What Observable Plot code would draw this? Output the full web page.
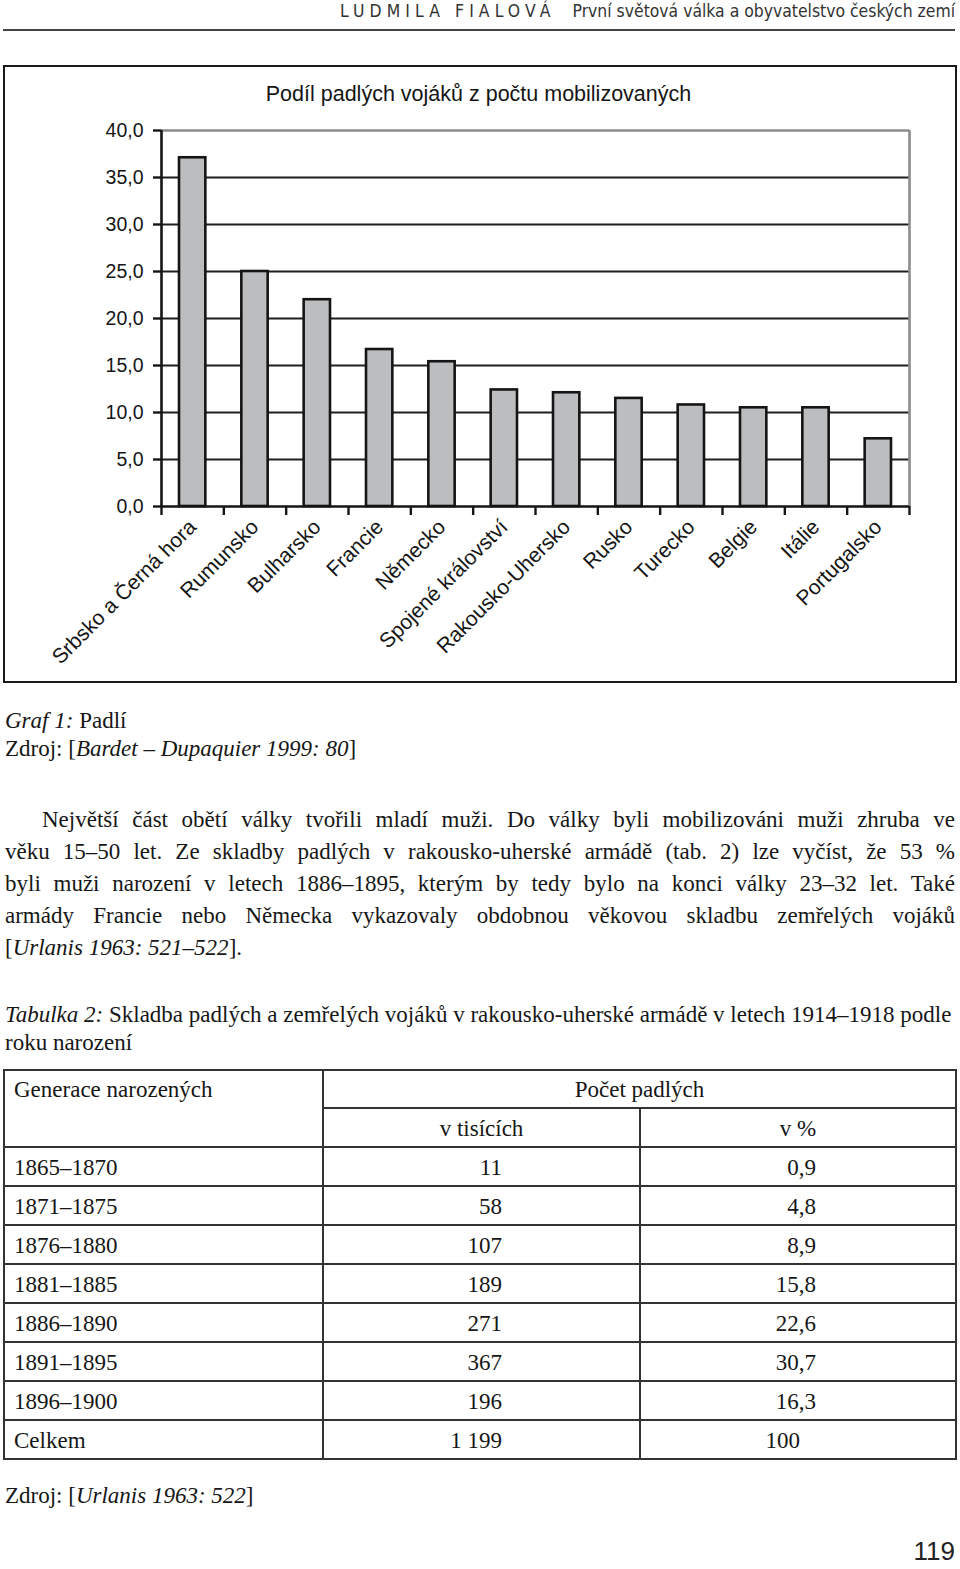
<!DOCTYPE html>
<html>
<head>
<meta charset="utf-8">
<script src="https://cdn.jsdelivr.net/npm/d3@7"></script>
<script src="https://cdn.jsdelivr.net/npm/@observablehq/plot@0.6"></script>
<style>
  html, body { margin: 0; padding: 0; background: #fff; }
  #page { position: relative; width: 960px; height: 1569px; overflow: hidden; background: #fff; color: #111; }
  .abs { position: absolute; white-space: nowrap; }
  .sans { font-family: "Liberation Sans", Arial, sans-serif; }
  .narrow { font-family: "Liberation Sans Narrow", "DejaVu Sans Condensed", sans-serif; }
  .serif { font-family: "Liberation Serif", "Times New Roman", serif; font-size: 23px; color: #161616; }
  .jline { position: absolute; left: 5px; width: 950px; white-space: nowrap; text-align: justify; text-align-last: justify; }
  .hl { position: absolute; height: 2px; background: #333; }
  .vl { position: absolute; width: 2px; background: #333; }
  .cell { position: absolute; white-space: nowrap; line-height: 39px; height: 39px; }
  #chartbox { position: absolute; left: 3px; top: 65px; width: 954px; height: 618px; border: 2.5px solid #1a1a1a; box-sizing: border-box; }
  #chart { position: absolute; left: 0; top: 66px; }
</style>
</head>
<body>
<div id="page">
  <div class="abs narrow" style="left:340px; top:3px; font-size:17.4px; line-height:17px; letter-spacing:5.1px; color:#333;">LUDMILA FIALOVÁ</div>
  <div class="abs narrow" style="right:5px; top:3px; font-size:17.4px; line-height:17px; color:#333;">První světová válka a obyvatelstvo českých zemí</div>
  <div class="hl" style="left:3px; width:952px; top:29px; height:1.5px; background:#444;"></div>

  <div id="chartbox"></div>
  <div class="abs sans" id="title" style="left:0; width:957px; text-align:center; top:84px; font-size:21.5px; line-height:21px; color:#151515;">Podíl padlých vojáků z počtu mobilizovaných</div>
  <div id="chart"></div>

  <div class="abs serif" style="left:5px; top:707px; line-height:28px;"><i>Graf 1:</i> Padlí<br>Zdroj: [<i>Bardet – Dupaquier 1999: 80</i>]</div>

  <div id="para" class="serif"></div>

  <div class="abs serif" style="left:5px; top:1001px; line-height:28px;"><i>Tabulka 2:</i> Skladba padlých a zemřelých vojáků v rakousko-uherské armádě v letech 1914–1918 podle<br>roku narození</div>

  <div id="table" class="serif"></div>

  <div class="abs serif" style="left:5px; top:1480px; line-height:32px;">Zdroj: [<i>Urlanis 1963: 522</i>]</div>

  <div class="abs sans" style="right:5px; top:1537px; font-size:26px; line-height:28px; color:#222;">119</div>
</div>
<script>
// ---- chart data ----
const categories = ["Srbsko a Černá hora", "Rumunsko", "Bulharsko", "Francie", "Německo", "Spojené království", "Rakousko-Uhersko", "Rusko", "Turecko", "Belgie", "Itálie", "Portugalsko"];
const values = [37.1, 25.0, 22.0, 16.7, 15.4, 12.4, 12.1, 11.5, 10.8, 10.5, 10.5, 7.2];
const yTicks = [0, 5, 10, 15, 20, 25, 30, 35, 40];
const chartTitle = "Podíl padlých vojáků z počtu mobilizovaných";

// ---- table data ----
const generations = ["1865–1870", "1871–1875", "1876–1880", "1881–1885", "1886–1890", "1891–1895", "1896–1900", "Celkem"];
const thousands = ["11", "58", "107", "189", "271", "367", "196", "1 199"];
const percents = ["0,9", "4,8", "8,9", "15,8", "22,6", "30,7", "16,3", "100"];

// ---- paragraph ----
const paraLines = [
  "Největší část obětí války tvořili mladí muži. Do války byli mobilizováni muži zhruba ve",
  "věku 15–50 let. Ze skladby padlých v rakousko-uherské armádě (tab. 2) lze vyčíst, že 53 %",
  "byli muži narození v letech 1886–1895, kterým by tedy bylo na konci války 23–32 let. Také",
  "armády Francie nebo Německa vykazovaly obdobnou věkovou skladbu zemřelých vojáků",
  "[<i>Urlanis 1963: 521–522</i>]."
];

const data = categories.map((c, i) => ({country: c, value: values[i], i}));
const fmt = d => d.toFixed(1).replace(".", ",");

const chart = Plot.plot({
  width: 960,
  height: 616,
  marginLeft: 161,
  marginRight: 51,
  marginTop: 64,
  marginBottom: 176,
  x: {domain: [0, categories.length], axis: null, label: null},
  y: {domain: [0, 40], axis: null, label: null},
  style: {fontFamily: "'Liberation Sans', Arial, sans-serif", background: "transparent", overflow: "visible", color: "#151515"},
  marks: [
    Plot.ruleY(yTicks.filter(t => t > 0 && t < 40), {stroke: "#1e1e1e", strokeWidth: 2.2}),
    Plot.ruleY([40], {stroke: "#8c8c8c", strokeWidth: 2.6}),
    Plot.ruleX([categories.length], {y1: 0, y2: 40, stroke: "#8c8c8c", strokeWidth: 2.6}),
    Plot.rectY(data, {x1: "i", x2: d => d.i + 1, y: "value", insetLeft: 18, insetRight: 18, fill: "#bcbdbf", stroke: "#151515", strokeWidth: 2.6}),
    Plot.ruleX([0], {y1: 0, y2: 40, stroke: "#151515", strokeWidth: 2.6}),
    Plot.ruleY([0], {stroke: "#151515", strokeWidth: 2.6}),
    Plot.axisY({ticks: yTicks, label: null, tickSize: 8, tickPadding: 10, tickFormat: fmt, fontSize: 19.5, strokeWidth: 2.4, stroke: "#151515", fill: "#151515"}),
    Plot.axisX({ticks: d3.range(categories.length + 1), label: null, tickSize: 9, tickFormat: () => "", strokeWidth: 2.4, stroke: "#151515"}),
    Plot.text(data, {x: d => d.i + 0.5, y: 0, text: "country", rotate: -45, textAnchor: "end", dx: 0, dy: 17, fontSize: 21, fill: "#151515"})
  ]
});
document.getElementById("chart").appendChild(chart);

// paragraph lines
const para = document.getElementById("para");
const paraTop = 804;
paraLines.forEach((t, k) => {
  const d = document.createElement("div");
  d.className = "jline";
  d.style.top = (paraTop + 32 * k) + "px";
  d.style.lineHeight = "32px";
  if (k === 0) { d.style.left = "42px"; d.style.width = "913px"; }
  if (k === paraLines.length - 1) { d.style.textAlignLast = "left"; }
  d.innerHTML = t;
  para.appendChild(d);
});

// table
const tbl = document.getElementById("table");
function hline(x1, x2, y) { const e = document.createElement("div"); e.className = "hl"; e.style.left = (x1 - 1) + "px"; e.style.width = (x2 - x1 + 2) + "px"; e.style.top = (y - 1) + "px"; tbl.appendChild(e); }
function vline(x, y1, y2) { const e = document.createElement("div"); e.className = "vl"; e.style.left = (x - 1) + "px"; e.style.top = (y1 - 1) + "px"; e.style.height = (y2 - y1 + 2) + "px"; tbl.appendChild(e); }
function cell(text, x, y, align, h) {
  const e = document.createElement("div"); e.className = "cell";
  e.style.top = y + "px";
  if (h) { e.style.height = h + "px"; e.style.lineHeight = h + "px"; }
  if (align === "left") { e.style.left = x + "px"; }
  else if (align === "right") { e.style.right = (960 - x) + "px"; }
  else { e.style.left = (x - 200) + "px"; e.style.width = "400px"; e.style.textAlign = "center"; }
  e.textContent = text; tbl.appendChild(e);
}
const X0 = 4, X1 = 323, X2 = 640, X3 = 956;
const tTop = 1070, tMid = 1108, tHead = 1147, rowH = 39;
const tBottom = tHead + rowH * generations.length;
hline(X0, X3, tTop);
hline(X1, X3, tMid);
for (let r = 0; r <= generations.length; r++) hline(X0, X3, tHead + rowH * r);
vline(X0, tTop, tBottom); vline(X1, tTop, tBottom); vline(X2, tMid, tBottom); vline(X3, tTop, tBottom);
cell("Generace narozených", 14, tTop + 1, "left", 38);
cell("Počet padlých", (X1 + X3) / 2, tTop + 1, "center", 38);
cell("v tisících", (X1 + X2) / 2, tMid + 1, "center", 39);
cell("v %", (X2 + X3) / 2, tMid + 1, "center", 39);
generations.forEach((g, r) => {
  const y = tHead + rowH * r + 1;
  cell(g, 14, y, "left");
  cell(thousands[r], 502, y, "right");
  cell(percents[r], percents[r].includes(",") ? 816 : 800, y, "right");
});
</script>
</body>
</html>
